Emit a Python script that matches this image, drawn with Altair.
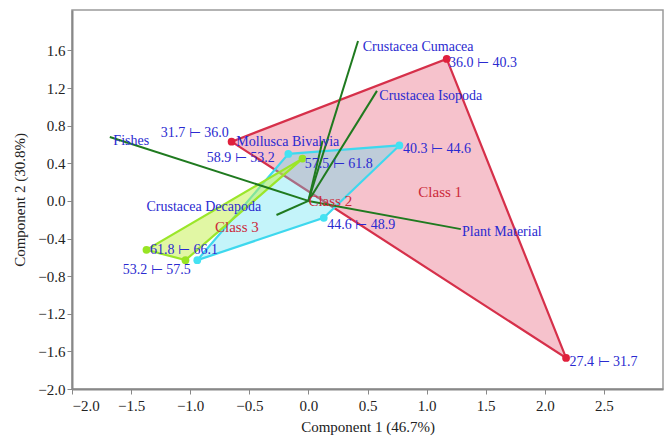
import altair as alt
import pandas as pd

# ---- data ----
# class hull vertices (in drawing order)
c1_x = [-0.65, 1.17, 2.18]
c1_y = [0.63, 1.51, -1.67]
c2_x = [-0.17, 0.77, 0.13, -0.94]
c2_y = [0.50, 0.59, -0.18, -0.63]
c3_x = [-0.05, -1.37, -1.04]
c3_y = [0.45, -0.52, -0.63]

# point labels
pt_labels = ["31.7 ⊢ 36.0", "36.0 ⊢ 40.3", "27.4 ⊢ 31.7", "40.3 ⊢ 44.6",
             "58.9 ⊢ 53.2", "57.5 ⊢ 61.8", "44.6 ⊢ 48.9", "61.8 ⊢ 66.1",
             "53.2 ⊢ 57.5"]
pt_lab_x = [-1.25, 1.19, 2.21, 0.80, -0.86, -0.03, 0.16, -1.34, -1.57]
pt_lab_y = [0.72, 1.47, -1.71, 0.55, 0.46, 0.39, -0.26, -0.52, -0.73]

# biplot vectors (variable loadings)
var_names = ["Fishes", "Plant Material", "Crustacea Cumacea", "Crustacea Isopoda",
             "Mollusca Bivalvia", "Crustacea Decapoda"]
var_x = [-1.68, 1.29, 0.42, 0.58, 0.12, -0.27]
var_y = [0.68, -0.30, 1.70, 1.17, 0.64, -0.15]
var_lab_x = [-1.65, 1.30, 0.46, 0.60, -0.61, -1.37]
var_lab_y = [0.64, -0.33, 1.64, 1.12, 0.63, -0.07]

# class labels
cls_names = ["Class 1", "Class 2", "Class 3"]
cls_lab_x = [0.93, 0.0, -0.79]
cls_lab_y = [0.10, 0.0, -0.28]

x_ticks = [-2.0, -1.5, -1.0, -0.5, 0.0, 0.5, 1.0, 1.5, 2.0, 2.5]
y_ticks = [-2.0, -1.6, -1.2, -0.8, -0.4, 0.0, 0.4, 0.8, 1.2, 1.6]

FONT = "Liberation Serif"

xs = alt.Scale(domain=[-2.0, 3.0], nice=False, zero=False)
ys = alt.Scale(domain=[-2.0, 2.03], nice=False, zero=False)

def poly_df(xv, yv):
    xx = list(xv) + [xv[0]]
    yy = list(yv) + [yv[0]]
    return pd.DataFrame({"x": xx, "y": yy, "o": list(range(len(xx)))})

def polygon(xv, yv, fill, fop, stroke):
    return alt.Chart(poly_df(xv, yv)).mark_line(
        fill=fill, fillOpacity=fop, stroke=stroke, strokeWidth=2.2
    ).encode(
        x=alt.X("x:Q", scale=xs, axis=alt.Axis(values=x_ticks, format=".1f",
                                              title="Component 1 (46.7%)")),
        y=alt.Y("y:Q", scale=ys, axis=alt.Axis(values=y_ticks, format=".1f",
                                              title="Component 2 (30.8%)")),
        order="o:Q",
    )

p1 = polygon(c1_x, c1_y, "#e8677f", 0.4, "#d6304a")
p2 = polygon(c2_x, c2_y, "#55e0f0", 0.35, "#3ed8ee")
p3 = polygon(c3_x, c3_y, "#c4f04a", 0.5, "#9be62a")

# vectors
vec_rows = []
for i, n in enumerate(var_names):
    vec_rows.append({"var": n, "x": 0.0, "y": 0.0, "o": 0})
    vec_rows.append({"var": n, "x": var_x[i], "y": var_y[i], "o": 1})
vec = alt.Chart(pd.DataFrame(vec_rows)).mark_line(
    color="#1f7a1f", strokeWidth=2
).encode(x=alt.X("x:Q", scale=xs), y=alt.Y("y:Q", scale=ys),
         detail="var:N", order="o:Q")

# points
pts_df = pd.DataFrame({
    "x": c1_x + c2_x + c3_x,
    "y": c1_y + c2_y + c3_y,
    "cls": ["Class 1"] * len(c1_x) + ["Class 2"] * len(c2_x) + ["Class 3"] * len(c3_x),
})
pts = alt.Chart(pts_df).mark_circle(size=60, opacity=1).encode(
    x=alt.X("x:Q", scale=xs), y=alt.Y("y:Q", scale=ys),
    color=alt.Color("cls:N", scale=alt.Scale(domain=cls_names,
                    range=["#e0203c", "#44e2f2", "#98e424"]), legend=None),
)

pt_text = alt.Chart(pd.DataFrame({"x": pt_lab_x, "y": pt_lab_y, "t": pt_labels})).mark_text(
    align="left", baseline="middle", font=FONT, fontSize=14, color="#2a2ad0"
).encode(x=alt.X("x:Q", scale=xs), y=alt.Y("y:Q", scale=ys), text="t:N")

var_text = alt.Chart(pd.DataFrame({"x": var_lab_x, "y": var_lab_y, "t": var_names})).mark_text(
    align="left", baseline="middle", font=FONT, fontSize=14, color="#2a2ad0"
).encode(x=alt.X("x:Q", scale=xs), y=alt.Y("y:Q", scale=ys), text="t:N")

cls_text = alt.Chart(pd.DataFrame({"x": cls_lab_x, "y": cls_lab_y, "t": cls_names})).mark_text(
    align="left", baseline="middle", font=FONT, fontSize=15, color="#cc2a3a"
).encode(x=alt.X("x:Q", scale=xs), y=alt.Y("y:Q", scale=ys), text="t:N")

chart = alt.layer(p1, p2, p3, vec, pts, pt_text, var_text, cls_text).properties(
    width=591, height=379,
    autosize=alt.AutoSizeParams(type="none"),
    padding={"left": 72, "top": 10, "right": 5, "bottom": 47},
).configure_view(
    stroke="#9a9a9a", strokeWidth=1.5
).configure_axis(
    grid=False, domainColor="#888888", domainWidth=2,
    tickColor="#888888", tickSize=5, tickWidth=1,
    labelFont=FONT, labelFontSize=15, labelColor="#222222",
    titleFont=FONT, titleFontSize=15, titleFontWeight="normal", titleColor="#222222",
).configure_axisX(labelPadding=4, titlePadding=6).configure_axisY(titlePadding=10)

chart.save("out.html", embed_options={"renderer": "svg", "actions": False})
